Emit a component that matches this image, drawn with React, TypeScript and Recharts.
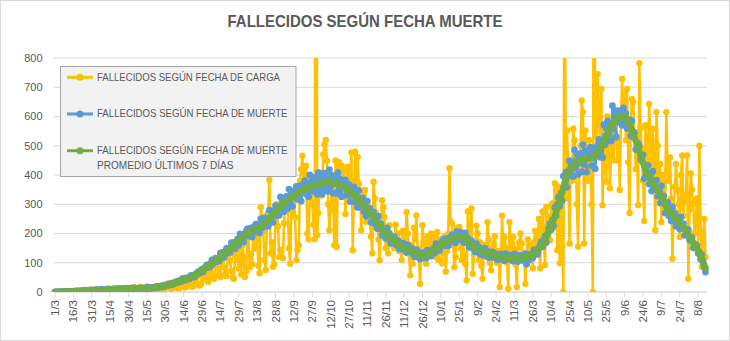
import React from 'react';
import { LineChart, Line, XAxis, YAxis, CartesianGrid } from 'recharts';

// Fallecidos según fecha de carga (daily, from 1/3/2020)
const cargaA = [
  0,0,0,0,0,0,0,1,0,1, 0,1,1,0,2,1,2,3,0,2, 3,4,3,5,2,4,5,3,6,4, 8,3,6,9,5,10,4,7,11,6,
  9,3,8,12,7,10,5,9,13,6, 8,4,11,14,7,10,5,9,12,8, 11,6,14,9,16,7,12,10,5,15, 18,8,13,6,11,19,9,14,7,12,
  17,10,8,21,13,18,9,15,22,11, 12,25,18,30,15,10,28,20,33,18,
];
const cargaB = [
  14,12,32,25,38,20,15,18,40,30, 44,25,18,20,48,35,52,28,22,25, 56,42,60,75,40,35,70,90,65,50,
  45,95,110,80,60,52,100,120,85,62, 55,118,135,108,72,50,45,125,150,110, 80,142,60,160,120,51,70,175,190,85,
  130,95,210,148,232,180,90,64,290,250, 206,110,75,240,270,383,132,170,86,95, 260,300,225,120,145,120,115,235,320,302,
  280,150,97,330,274,310,255,110,143,160,
];
const cargaC = [
  380,420,466,350,426,432,200,180,350,395, 300,230,180,3351,195,270,409,380,330,470, 505,520,449,300,211,280,400,360,160,450,
  154,444,443,390,432,380,415,267,330,428, 350,390,477,143,320,480,300,462,371,340, 211,290,330,349,240,297,280,250,190,132,
  377,320,270,239,180,109,200,314,290,256, 150,205,132,228,190,170,160,150,230,180, 200,140,175,109,210,195,150,273,200,130,
  57,160,97,220,180,262,150,120,28,130,
];
const cargaD = [
  228,170,140,97,190,160,130,200,175,194, 160,120,205,109,180,150,98,165,190,70, 140,200,423,240,233,160,85,120,216,190,
  222,150,110,180,130,95,40,275,180,200, 286,62,130,150,227,200,110,170,90,45, 140,160,120,239,180,100,74,150,165,190,
  130,100,140,17,120,261,130,188,150,100, 11,239,160,120,188,140,95,17,150,170, 200,166,110,130,28,132,180,150,120,160,
  81,170,210,140,190,250,81,230,275,190,
];
const cargaE = [
  92,291,260,180,177,297,303,220,372,347, 143,360,98,290,155,0,1500,320,552,400, 166,450,380,558,519,470,300,155,420,500,
  655,615,166,552,460,380,520,440,300,0, 1800,560,480,745,620,500,694,297,450,552, 377,600,520,355,480,580,450,560,620,450,
  530,349,600,728,580,677,520,694,444,270, 590,660,649,540,420,480,297,782,560,491, 380,243,570,500,450,643,520,400,558,480,
  211,615,500,330,438,239,400,360,300,615,
];
const cargaF = [
  420,380,460,320,114,280,360,438,350,300, 188,400,467,260,310,330,467,45,280,405, 350,301,200,239,320,150,500,250,86,180,
  250,120,
];

// Fallecidos según fecha de muerte (daily)
const muerteA = [
  0,0,0,0,0,0,1,0,0,1, 1,1,2,1,3,2,2,4,3,3, 4,3,5,3,4,6,4,5,6,5, 7,4,6,5,8,6,7,5,9,6,
  8,7,6,9,8,10,7,9,8,11, 9,8,12,10,9,11,10,13,9,12, 11,10,13,9,12,14,10,11,13,12, 14,11,13,12,15,11,16,13,12,16,
  15,17,14,19,16,18,20,17,22,19, 24,21,25,23,28,26,30,27,34,32,
];
const muerteB = [
  37,34,39,36,46,41,47,41,47,50, 45,57,51,58,51,61,65,70,64,73, 78,69,81,87,93,84,94,86,109,97,
  109,116,103,116,106,133,119,135,118,135, 149,133,149,135,169,150,170,148,170,181, 160,199,176,197,171,195,207,216,191,211,
  219,188,213,224,232,204,226,202,250,219, 243,254,225,250,225,280,246,276,238,271, 295,261,291,262,325,286,320,275,311,327,
  286,352,307,341,293,331,348,361,317,350,
];
const muerteC = [
  364,311,351,368,381,334,368,326,400,347, 380,392,343,377,334,408,354,392,335,378, 406,354,389,344,418,361,399,338,378,391,
  337,408,351,386,326,364,376,383,331,359, 367,309,343,353,359,308,333,289,347,296, 318,322,276,299,259,311,264,286,238,262,
  274,234,251,217,259,218,234,194,212,215, 183,219,185,200,167,184,187,189,162,174, 176,147,162,166,167,144,155,135,162,138,
  149,151,130,139,120,144,123,135,113,126,
];
const muerteD = [
  134,117,129,116,143,126,142,123,141,150, 133,165,146,164,142,163,172,180,159,176, 183,158,179,188,195,172,190,168,206,180,
  198,205,179,195,169,202,171,184,153,168, 175,149,160,138,165,141,154,129,142,146, 125,150,129,140,118,130,134,137,118,128,
  130,110,122,126,130,112,123,107,131,113, 123,126,110,121,106,130,111,123,104,118, 126,110,122,107,131,95,127,109,123,130,
  116,144,129,146,129,149,161,172,155,177,
];
const muerteE = [
  191,169,199,217,234,213,245,227,289,261, 299,323,294,337,311,396,357,409,358,412, 449,398,442,395,486,424,472,402,453,474,
  411,503,436,482,410,461,480,495,432,476, 493,421,477,501,522,461,513,460,572,503, 560,585,518,576,516,637,557,620,530,599,
  620,580,612,570,629,585,611,559,587,589, 534,585,530,546,487,511,508,499,453,463, 469,388,424,431,433,369,398,345,413,351,
  378,382,327,351,304,363,305,328,270,294,
];
const muerteF = [
  307,261,280,243,291,248,269,225,248,254, 215,256,217,234,194,211,213,212,178,187, 186,151,163,162,159,132,136,113,128,101,
  85,68,
];

// Promedio últimos 7 días
const promedioA = [
  0,0,0,0,0,0,1,1,1,1, 1,1,2,2,2,2,2,3,3,3, 3,3,3,4,4,4,4,4,5,5, 5,5,5,5,6,6,6,6,6,6,
  7,7,7,7,7,8,8,8,8,8, 9,9,9,9,9,9,10,10,10,10, 10,10,10,11,11,11,11,11,11,11, 11,12,12,12,12,12,13,13,13,14,
  14,15,15,16,16,17,17,18,19,20, 21,22,23,24,25,26,28,29,31,33,
];
const promedioB = [
  34,36,38,40,41,43,44,46,47,48, 49,51,53,55,57,60,62,65,68,71, 74,77,80,83,86,89,91,94,98,101,
  104,107,110,113,117,120,124,127,131,134, 138,141,145,148,152,156,160,164,168,172, 176,179,183,186,190,193,197,200,203,205,
  207,209,211,213,215,217,219,222,225,228, 231,235,239,243,247,252,256,260,264,268, 273,278,283,288,293,298,302,305,308,311,
  314,317,320,322,325,328,331,334,337,340,
];
const promedioC = [
  343,345,348,350,353,355,357,358,360,361, 362,363,365,366,367,368,369,370,372,374, 376,377,378,378,377,376,376,375,374,372,
  370,368,366,364,362,360,358,355,352,349, 346,343,340,336,332,328,323,318,313,308, 303,298,294,290,285,280,275,270,264,259,
  254,249,244,239,233,227,221,215,210,205, 201,197,193,189,185,182,178,175,172,169, 166,163,160,158,155,153,150,148,146,144,
  142,140,138,135,132,130,128,127,126,125,
];
const promedioD = [
  124,124,125,127,129,131,134,137,140,143, 146,149,152,155,158,161,164,167,169,171, 173,175,177,179,181,183,184,185,186,188,
  189,190,190,189,186,182,178,174,170,166, 162,158,155,152,149,147,145,143,141,139, 137,135,134,132,131,129,128,127,126,124,
  123,122,121,120,120,119,119,118,118,118, 117,117,117,117,117,117,116,116,116,117, 117,117,118,118,118,119,120,121,122,124,
  127,130,134,138,143,148,153,159,165,172,
];
const promedioE = [
  180,188,197,207,217,227,238,249,260,272, 285,299,313,327,342,357,372,386,398,408, 416,423,429,434,438,442,445,447,449,451,
  452,453,454,455,455,456,457,458,460,462, 465,468,472,477,483,490,498,506,515,524, 533,542,551,559,567,574,580,585,589,593,
  596,598,600,600,599,597,593,588,581,572, 562,552,541,530,518,506,493,480,467,454, 442,431,420,410,401,393,386,379,372,366,
  360,354,348,341,334,327,318,309,300,291,
];
const promedioF = [
  284,278,272,267,262,258,254,250,246,242, 236,231,226,221,215,209,203,196,189,182, 175,168,161,154,147,140,132,124,115,105,
  94,82,
];

const carga = [...cargaA, ...cargaB, ...cargaC, ...cargaD, ...cargaE, ...cargaF];
const muerte = [...muerteA, ...muerteB, ...muerteC, ...muerteD, ...muerteE, ...muerteF];
const promedio = [...promedioA, ...promedioB, ...promedioC, ...promedioD, ...promedioE, ...promedioF];

const yTicks = [0, 100, 200, 300, 400, 500, 600, 700, 800];
const title = 'FALLECIDOS SEGÚN FECHA MUERTE';
const seriesNames = [
  'FALLECIDOS SEGÚN FECHA DE CARGA',
  'FALLECIDOS SEGÚN FECHA DE MUERTE',
  'FALLECIDOS SEGÚN FECHA DE MUERTE',
];
const seriesNameLine2 = 'PROMEDIO ÚLTIMOS 7 DÍAS';

const COL_CARGA = '#FFC000';
const COL_MUERTE = '#5B9BD5';
const COL_PROM = '#70AD47';
const TEXT = '#595959';
const FONT = '"Liberation Sans", Arial, sans-serif';

const data = muerte.map((m, i) => {
  const dt = new Date(2020, 2, 1 + i);
  return {
    fecha: `${dt.getDate()}/${dt.getMonth() + 1}`,
    carga: carga[i],
    muerte: m,
    promedio: promedio[i],
  };
});

const XTick = (props: any) => {
  const { x, y, payload } = props;
  return (
    <g transform={`translate(${x},${y + 1})`}>
      <text transform="rotate(-90)" textAnchor="end" dy="0.35em" fontSize={11.5} fill={TEXT} fontFamily={FONT}>
        {payload.value}
      </text>
    </g>
  );
};

export default function App() {
  return (
    <div style={{ position: 'absolute', left: 0, top: 0, width: 730, height: 341, background: '#fff' }}>
      <LineChart width={730} height={341} data={data} margin={{ top: 58, right: 23, bottom: 0, left: 0 }}>
        <CartesianGrid vertical={false} stroke="#d9d9d9" />
        <XAxis
          dataKey="fecha"
          interval={14}
          height={49}
          padding={{ left: 1.5, right: 1.5 }}
          axisLine={{ stroke: '#d9d9d9' }}
          tickLine={{ stroke: '#d9d9d9' }}
          tickSize={5}
          tick={<XTick />}
        />
        <YAxis
          domain={[0, 800]}
          ticks={yTicks}
          allowDataOverflow
          width={53.5}
          axisLine={false}
          tickLine={false}
          tickSize={0}
          tickMargin={11}
          tick={{ fontSize: 11, fill: TEXT, fontFamily: FONT }}
        />
        <Line
          dataKey="carga"
          stroke={COL_CARGA}
          strokeWidth={2.5}
          dot={{ r: 3.2, fill: COL_CARGA, stroke: COL_CARGA, strokeWidth: 0 }}
          activeDot={false}
          isAnimationActive={false}
        />
        <Line
          dataKey="muerte"
          stroke={COL_MUERTE}
          strokeWidth={2.5}
          dot={{ r: 3.4, fill: COL_MUERTE, stroke: COL_MUERTE, strokeWidth: 0 }}
          activeDot={false}
          isAnimationActive={false}
        />
        <Line
          dataKey="promedio"
          stroke={COL_PROM}
          strokeWidth={3.5}
          dot={{ r: 3.3, fill: COL_PROM, stroke: COL_PROM, strokeWidth: 0 }}
          activeDot={false}
          isAnimationActive={false}
        />
      </LineChart>
      <svg width={730} height={341} style={{ position: 'absolute', left: 0, top: 0, pointerEvents: 'none' }}>
        <rect x={0.5} y={0.5} width={729} height={340} fill="none" stroke="#d9d9d9" />
        <text x={365} y={27} textAnchor="middle" fontSize={17} fontWeight="bold" fill={TEXT} fontFamily={FONT}
          textLength={275} lengthAdjust="spacingAndGlyphs">{title}</text>
        <rect x={60.5} y={66.5} width={235.5} height={110} fill="#f2f2f2" stroke="#a6a6a6" />
        <line x1={67} x2={93} y1={77.3} y2={77.3} stroke={COL_CARGA} strokeWidth={3} />
        <circle cx={80} cy={77.3} r={3.5} fill={COL_CARGA} />
        <text x={97} y={80.7} fontSize={11} fill={TEXT} fontFamily={FONT} textLength={183} lengthAdjust="spacingAndGlyphs">{seriesNames[0]}</text>
        <line x1={67} x2={93} y1={114} y2={114} stroke={COL_MUERTE} strokeWidth={3} />
        <circle cx={80} cy={114} r={3.5} fill={COL_MUERTE} />
        <text x={97} y={117.3} fontSize={11} fill={TEXT} fontFamily={FONT} textLength={190.5} lengthAdjust="spacingAndGlyphs">{seriesNames[1]}</text>
        <line x1={67} x2={93} y1={150.7} y2={150.7} stroke={COL_PROM} strokeWidth={3} />
        <circle cx={80} cy={150.7} r={3.5} fill={COL_PROM} />
        <text x={97} y={154} fontSize={11} fill={TEXT} fontFamily={FONT} textLength={190.5} lengthAdjust="spacingAndGlyphs">{seriesNames[2]}</text>
        <text x={97} y={169} fontSize={11} fill={TEXT} fontFamily={FONT} textLength={136.5} lengthAdjust="spacingAndGlyphs">{seriesNameLine2}</text>
      </svg>
    </div>
  );
}
